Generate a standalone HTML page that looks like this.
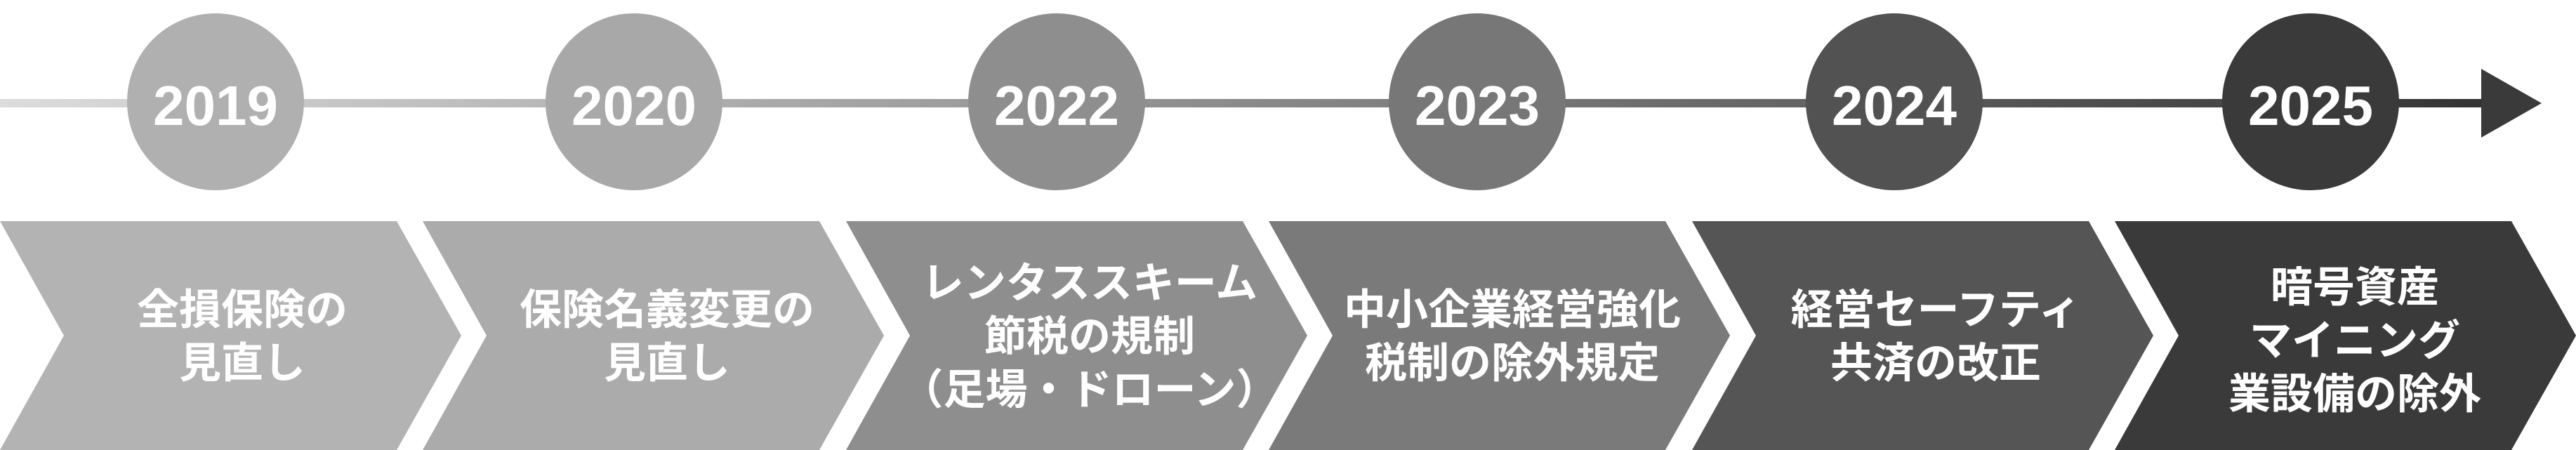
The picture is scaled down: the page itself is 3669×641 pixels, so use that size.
<!DOCTYPE html>
<html><head><meta charset="utf-8"><style>html,body{margin:0;padding:0;background:#fff;}svg{display:block}</style></head>
<body>
<svg width="3669" height="641" viewBox="0 0 3669 641" xmlns="http://www.w3.org/2000/svg">
<defs>
<linearGradient id="lg" x1="0" y1="0" x2="1" y2="0">
<stop offset="0" stop-color="#dcdcdc"/><stop offset="0.5" stop-color="#8a8a8a"/><stop offset="1" stop-color="#333"/>
</linearGradient>
</defs>
<rect x="0" y="141" width="3540" height="12" fill="url(#lg)"/>
<polygon points="3534,98 3620,147 3534,196" fill="#3a3a3a"/>
<g font-family="'Liberation Sans','Noto Sans CJK JP',sans-serif" font-weight="bold" fill="#fff" text-anchor="middle">
<circle cx="307" cy="145" r="126" fill="#b0b0b0"/>
<circle cx="903" cy="145" r="126" fill="#a8a8a8"/>
<circle cx="1505" cy="145" r="126" fill="#8e8e8e"/>
<circle cx="2104" cy="145" r="126" fill="#777777"/>
<circle cx="2698" cy="145" r="126" fill="#525252"/>
<circle cx="3291" cy="145" r="126" fill="#3a3a3a"/>
<g font-size="80">
<text x="307" y="178">2019</text>
<text x="903" y="178">2020</text>
<text x="1505" y="178">2022</text>
<text x="2104" y="178">2023</text>
<text x="2698" y="178">2024</text>
<text x="3291" y="178">2025</text>
</g>
<polygon points="0,315 565,315 657,478 565,641 0,641 91,478" fill="#b3b3b3"/>
<polygon points="602,315 1167,315 1259,478 1167,641 602,641 693,478" fill="#ababab"/>
<polygon points="1205,315 1770,315 1862,478 1770,641 1205,641 1296,478" fill="#8e8e8e"/>
<polygon points="1807,315 2372,315 2464,478 2372,641 1807,641 1898,478" fill="#7a7a7a"/>
<polygon points="2410,315 2975,315 3067,478 2975,641 2410,641 2501,478" fill="#555555"/>
<polygon points="3012,315 3577,315 3669,478 3577,641 3012,641 3103,478" fill="#3a3a3a"/>
<g font-size="60">
<text x="345" y="462">全損保険の</text><text x="345" y="538">見直し</text>
<text x="950" y="462">保険名義変更の</text><text x="950" y="538">見直し</text>
<text x="1552" y="424">レンタススキーム</text><text x="1552" y="500">節税の規制</text><text x="1552" y="576">（足場・ドローン）</text>
<text x="2154" y="462">中小企業経営強化</text><text x="2154" y="538">税制の除外規定</text>
<text x="2757" y="462">経営セーフティ</text><text x="2757" y="538">共済の改正</text>
<text x="3354" y="430">暗号資産</text><text x="3354" y="506">マイニング</text><text x="3354" y="582">業設備の除外</text>
</g>
</g>
</svg>
</body></html>
